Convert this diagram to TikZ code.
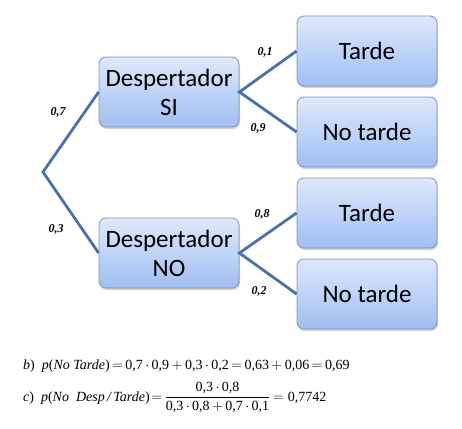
\documentclass[tikz,border=0pt]{standalone}
\usepackage{amsmath}
\usepackage{fontspec}
\setmainfont{Liberation Serif}
\newfontfamily\boxfont{Carlito}
\usetikzlibrary{shadows}
\definecolor{linec}{RGB}{72,114,168}
\definecolor{boxtop}{RGB}{222,233,252}
\definecolor{boxbot}{RGB}{160,190,242}
\definecolor{boxdraw}{RGB}{128,148,182}
\newcommand{\mdt}{\mkern3mu{\cdot}\mkern3mu}
\newcommand{\mpl}{\mkern3mu{+}\mkern3mu}
\tikzset{
  probbox/.style={draw=boxdraw, line width=0.8pt, rounded corners=7pt,
    top color=boxtop, bottom color=boxbot, minimum width=140pt, minimum height=70pt,
    inner sep=0pt, align=center, font=\boxfont\fontsize{25}{29}\selectfont,
    drop shadow={opacity=0.35, shadow xshift=1pt, shadow yshift=-2pt}},
  branch/.style={draw=linec, line width=2.8pt},
  plabel/.style={font=\bfseries\itshape\fontsize{12}{14}\selectfont, inner sep=0pt},
  eqn/.style={anchor=base west, inner sep=0pt, font=\fontsize{14}{16}\selectfont}
}
\begin{document}
\begin{tikzpicture}[x=1pt,y=-1pt]
\useasboundingbox (0,0) rectangle (462,428);
\fill[white] (0,0) rectangle (462,428);
\coordinate (root) at (43,172);
\node[probbox] (si) at (169,92) {Despertador\\SI};
\node[probbox] (no) at (169,253) {Despertador\\NO};
\node[probbox] (t1) at (367,51) {Tarde};
\node[probbox] (n1) at (367,132) {No tarde};
\node[probbox] (t2) at (367,213) {Tarde};
\node[probbox] (n2) at (367,294) {No tarde};
\draw[branch] (si.west) -- (root) -- (no.west);
\draw[branch] (t1.west) -- (si.east) -- (n1.west);
\draw[branch] (t2.west) -- (no.east) -- (n2.west);
\node[plabel] (l07) at (58,112) {0,7};
\node[plabel] (l03) at (56,229) {0,3};
\node[plabel] (l01) at (265,52) {0,1};
\node[plabel] (l09) at (258,128) {0,9};
\node[plabel] (l08) at (262,214) {0,8};
\node[plabel] (l02) at (259,291) {0,2};
\node[eqn] (eqb) at (23,369) {\textit{b})\enspace\textit{p}(\textit{No Tarde})$\,=\,$0,7$\,\cdot\,$0,9$\,+\,$0,3$\,\cdot\,$0,2$\,=\,$0,63$\,+\,$0,06$\,=\,$0,69};
\node[eqn] (eqc) at (23,401) {\textit{c})\enspace\textit{p}(\textit{No\enspace Desp\,/\,Tarde})$\mkern2mu{=}\mkern3mu\dfrac{\text{0,3}\mdt\text{0,8}}{\text{0,3}\mdt\text{0,8}\mpl\text{0,7}\mdt\text{0,1}}\mkern3mu{=}\mkern5mu$0,7742};
\end{tikzpicture}
\end{document}
